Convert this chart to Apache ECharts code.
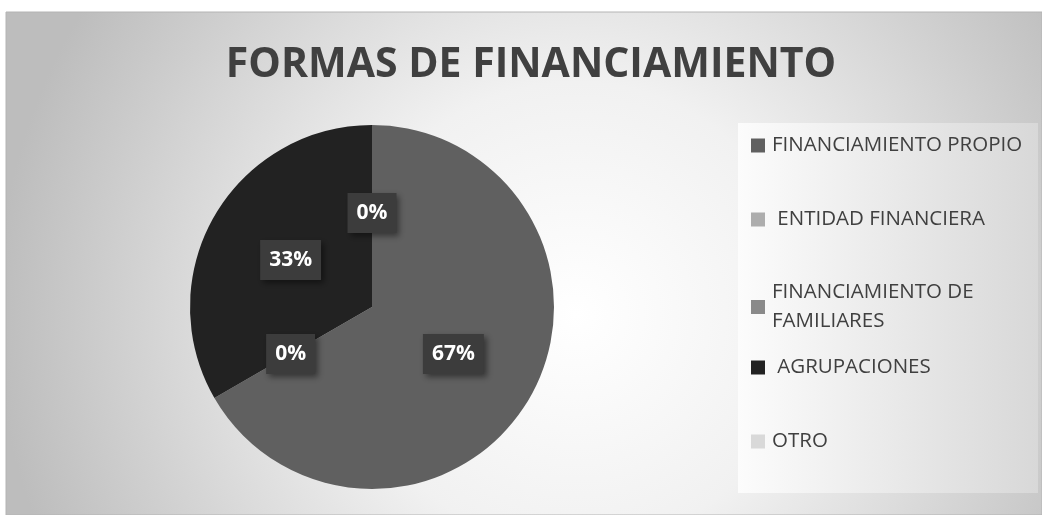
<!DOCTYPE html>
<html>
<head>
<meta charset="utf-8">
<script src="https://cdn.jsdelivr.net/npm/echarts@6/dist/echarts.min.js"></script>
<style>
  html, body { margin: 0; padding: 0; background: #fff; }
  #chart { width: 1042px; height: 515px; }
</style>
</head>
<body>
<div id="chart"></div>
<script>
// data
const categories = ['FINANCIAMIENTO PROPIO', ' ENTIDAD FINANCIERA', 'FINANCIAMIENTO DE FAMILIARES', ' AGRUPACIONES', 'OTRO']
const values = [2, 0, 0, 1, 0]
const colors = ['#606060', '#adadad', '#8a8a8a', '#222222', '#d9d9d9']
const legendTops = [131, 205, 278, 353, 427]

const font = '"Open Sans", "Noto Sans", sans-serif'

const chart = echarts.init(document.getElementById('chart'))

const legends = categories.map((name, i) => ({
  data: [name],
  orient: 'vertical',
  left: 751,
  top: legendTops[i],
  padding: 0,
  itemWidth: 14,
  itemHeight: 14,
  icon: 'rect',
  selectedMode: false,
  formatter: (n) => n === 'FINANCIAMIENTO DE FAMILIARES' ? 'FINANCIAMIENTO DE\nFAMILIARES' : n,
  textStyle: {
    fontFamily: font,
    fontSize: 20.5,
    color: '#404040',
    lineHeight: 29,
    padding: [0, 0, 0, 2],
  },
}))

const option = {
  backgroundColor: '#ffffff',
  animation: false,
  color: colors,
  graphic: [
    {
      type: 'rect',
      z: -10,
      shape: { x: 6, y: 12, width: 1036, height: 503 },
      style: {
        fill: {
          type: 'radial', x: 0.55, y: 0.6, r: 1.15,
          colorStops: [
            { offset: 0, color: '#ffffff' },
            { offset: 0.4, color: '#f1f1f1' },
            { offset: 1, color: '#bdbdbd' },
          ],
        },
        stroke: '#b4b4b4',
        lineWidth: 1,
      },
    },
    {
      type: 'rect',
      z: -9,
      shape: { x: 738, y: 123, width: 300, height: 370 },
      style: {
        fill: {
          type: 'linear', x: 0, y: 0, x2: 1, y2: 0,
          colorStops: [
            { offset: 0, color: '#fcfcfc' },
            { offset: 1, color: '#d8d8d8' },
          ],
        },
      },
    },
  ],
  title: {
    text: 'FORMAS DE FINANCIAMIENTO',
    left: 531,
    top: 45,
    padding: 0,
    textAlign: 'center',
    textStyle: {
      fontFamily: font,
      fontSize: 41,
      fontWeight: 'bold',
      color: '#404040',
    },
  },
  legend: legends,
  series: [
    {
      type: 'pie',
      center: [372, 307],
      radius: 182,
      startAngle: 90,
      clockwise: true,
      percentPrecision: 0,
      stillShowZeroSum: true,
      avoidLabelOverlap: false,
      label: {
        show: true,
        position: 'inside',
        formatter: '{d}%',
        fontFamily: font,
        fontSize: 21,
        fontWeight: 'bold',
        color: '#ffffff',
        backgroundColor: '#3c3c3c',
        padding: [10, 9, 9, 9],
        shadowColor: 'rgba(0,0,0,0.45)',
        shadowBlur: 6,
        shadowOffsetX: 3,
        shadowOffsetY: 3,
      },
      labelLine: { show: false },
      emphasis: { disabled: true },
      itemStyle: { borderWidth: 0 },
      data: categories.map((name, i) => ({ name, value: values[i] })),
    },
  ],
}

chart.setOption(option)
</script>
</body>
</html>
